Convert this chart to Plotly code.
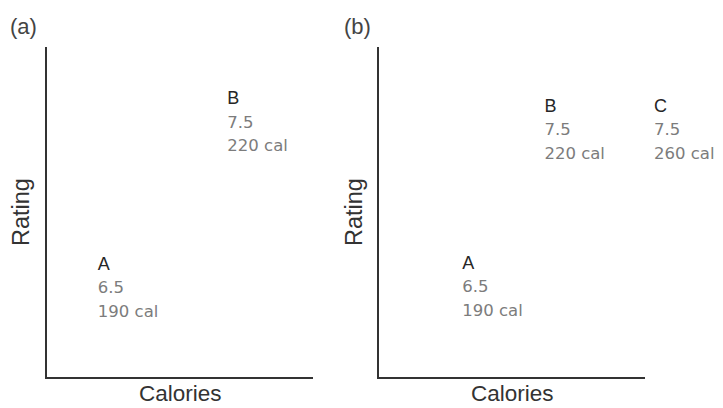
import plotly.graph_objects as go

# panel (a): two products
names_a = ["A", "B"]
ratings_a = [6.5, 7.5]
calories_a = [190, 220]

# panel (b): a third product C added
names_b = ["A", "B", "C"]
ratings_b = [6.5, 7.5, 7.5]
calories_b = [190, 220, 260]

# the page puts the plot 8px in from the top-left corner
OFF = 8
W, H = 723 - OFF, 408 - OFF
INK = "#333333"
GREY = "#7c7c7c"


def px(x):
    return (x - OFF) / W


def py(y):
    return 1 - (y - OFF) / H


def label(name, rating, cal):
    return (f"<span style='font-size:18px;font-family:Liberation Sans;color:#262626'>{name}</span><br>"
            f"<span style='font-size:16.5px'>{rating}</span><br>"
            f"<span style='font-size:16.5px'>{cal} cal</span>")


def trace(names, ratings, cals, xa, ya):
    return go.Scatter(x=cals, y=ratings,
                      xaxis=xa, yaxis=ya,
                      mode="markers+text",
                      marker=dict(size=16, opacity=0),
                      text=[label(n, r, c) for n, r, c in zip(names, ratings, cals)],
                      textposition="bottom right",
                      textfont=dict(family="DejaVu Sans", size=18, color=GREY),
                      cliponaxis=False, hoverinfo="skip")


fig = go.Figure()
fig.add_trace(trace(names_a, ratings_a, calories_a, "x", "y"))
fig.add_trace(trace(names_b, ratings_b, calories_b, "x2", "y2"))

ydom = [py(377), py(47)]
axis_style = dict(showline=True, linewidth=2, linecolor=INK, showgrid=False,
                  zeroline=False, showticklabels=False, ticks="", fixedrange=True)

fig.update_layout(
    width=W, height=H,
    margin=dict(l=0, r=0, t=0, b=0),
    paper_bgcolor="white", plot_bgcolor="white",
    showlegend=False,
    xaxis=dict(domain=[px(47), px(313)], range=[180.77, 242.38], anchor="y", **axis_style),
    yaxis=dict(domain=ydom, range=[5.705, 7.699], anchor="x", **axis_style),
    xaxis2=dict(domain=[px(379), px(645)], range=[163.6, 260.73], anchor="y2", **axis_style),
    yaxis2=dict(domain=ydom, range=[5.656, 7.758], anchor="x2", **axis_style),
)

title_font = dict(family="Liberation Sans", size=23.5, color=INK)
for left, tag in [(8, "(a)"), (342, "(b)")]:
    fig.add_annotation(text=tag, x=px(left), y=py(26), xref="paper", yref="paper",
                       xanchor="left", yanchor="middle", showarrow=False,
                       font=dict(family="Liberation Sans", size=22, color="#444444"))
for cx in [21, 354]:
    fig.add_annotation(text="Rating", x=px(cx), y=py(212), xref="paper", yref="paper",
                       xanchor="center", yanchor="middle", textangle=-90,
                       showarrow=False, font=title_font)
for cx in [180, 512]:
    fig.add_annotation(text="Calories", x=px(cx), y=py(393.5), xref="paper", yref="paper",
                       xanchor="center", yanchor="middle", showarrow=False,
                       font=dict(family="Liberation Sans", size=22.5, color=INK))

fig.write_html("out.html")
